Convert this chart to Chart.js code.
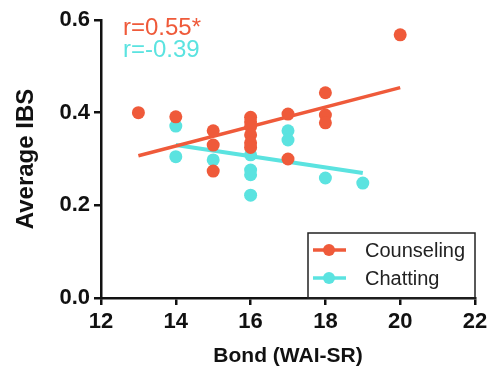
<!DOCTYPE html>
<html>
<head>
<meta charset="utf-8">
<script src="https://cdn.jsdelivr.net/npm/chart.js@4/dist/chart.umd.min.js"></script>
<style>
  html, body { margin: 0; padding: 0; background: #fff; }
  #wrap { width: 488px; height: 372px; }
</style>
</head>
<body>
<div id="wrap"><canvas id="c"></canvas></div>
<script>
// Bond (WAI-SR) scores vs average IBS
var counselingX = [13, 14, 15, 15, 15, 16, 16, 16, 16, 16, 16, 17, 17, 18, 18, 18, 20];
var counselingY = [0.400, 0.391, 0.361, 0.330, 0.274, 0.390, 0.380, 0.370, 0.352, 0.335, 0.325, 0.397, 0.300, 0.443, 0.395, 0.378, 0.568];
var chattingX = [14, 14, 15, 16, 16, 16, 16, 17, 17, 18, 19];
var chattingY = [0.371, 0.305, 0.298, 0.309, 0.276, 0.266, 0.222, 0.361, 0.341, 0.259, 0.248];

// regression lines (end points)
var counselingFitX = [13, 20];
var counselingFitY = [0.307, 0.454];
var chattingFitX = [14, 19];
var chattingFitY = [0.330, 0.270];

var xTicks = [12, 14, 16, 18, 20, 22];
var yTicks = [0.0, 0.2, 0.4, 0.6];

var counselingLabel = 'Counseling';
var chattingLabel = 'Chatting';
var counselingR = 'r=0.55*';
var chattingR = 'r=-0.39';

var orange = '#EF5A3A';
var cyan = '#5BE3E0';
var fontFamily = '"Liberation Sans", Arial, sans-serif';

function toPoints(xs, ys) {
    var pts = [];
    for (var i = 0; i < xs.length; i++) {
        pts.push({x: xs[i], y: ys[i]});
    }
    return pts;
}

var legendBox = {
    id: 'legendBox',
    afterDraw: function(chart) {
        var ctx = chart.ctx;
        var area = chart.chartArea;
        var left = area.right - 167, top = area.bottom - 65;
        ctx.save();
        ctx.strokeStyle = '#222';
        ctx.lineWidth = 1.5;
        ctx.strokeRect(left, top, 167, 65);

        var items = [[counselingLabel, orange], [chattingLabel, cyan]];
        ctx.font = '20px ' + fontFamily;
        ctx.textBaseline = 'middle';
        for (var i = 0; i < items.length; i++) {
            var y = top + 17 + i * 28;
            ctx.strokeStyle = items[i][1];
            ctx.fillStyle = items[i][1];
            ctx.lineWidth = 3.5;
            ctx.beginPath();
            ctx.moveTo(left + 5, y);
            ctx.lineTo(left + 38, y);
            ctx.stroke();
            ctx.beginPath();
            ctx.arc(left + 21, y, 6, 0, Math.PI * 2);
            ctx.fill();
            ctx.fillStyle = '#222';
            ctx.fillText(items[i][0], left + 57, y + 1);
        }

        // correlation labels
        ctx.font = '24px ' + fontFamily;
        ctx.textBaseline = 'alphabetic';
        ctx.fillStyle = orange;
        ctx.fillText(counselingR, area.left + 22, area.top + 15);
        ctx.fillStyle = cyan;
        ctx.fillText(chattingR, area.left + 22, area.top + 37);
        ctx.restore();
    }
};

var pointStyle = {
    showLine: false,
    pointRadius: 6.5,
    pointHoverRadius: 6.5,
    borderWidth: 0
};

new Chart(document.getElementById('c'), {
    type: 'scatter',
    data: {
        datasets: [
            Object.assign({
                label: counselingLabel,
                data: toPoints(counselingX, counselingY),
                backgroundColor: orange,
                borderColor: orange
            }, pointStyle),
            Object.assign({
                label: chattingLabel,
                data: toPoints(chattingX, chattingY),
                backgroundColor: cyan,
                borderColor: cyan
            }, pointStyle),
            {
                label: 'fit1',
                data: toPoints(counselingFitX, counselingFitY),
                showLine: true,
                borderColor: orange,
                borderWidth: 3.5,
                pointRadius: 0
            },
            {
                label: 'fit2',
                data: toPoints(chattingFitX, chattingFitY),
                showLine: true,
                borderColor: cyan,
                borderWidth: 4,
                pointRadius: 0
            }
        ]
    },
    options: {
        responsive: true,
        maintainAspectRatio: false,
        animation: false,
        layout: { padding: { top: 20, right: 13, left: 0, bottom: 0 } },
        plugins: {
            legend: { display: false },
            tooltip: { enabled: false }
        },
        scales: {
            x: {
                type: 'linear',
                min: 12,
                max: 22,
                afterBuildTicks: function(scale) {
                    scale.ticks = xTicks.map(function(v) { return {value: v}; });
                },
                afterFit: function(scale) {
                    scale.height = 74;
                    scale.paddingLeft = 0;
                    scale.paddingRight = 0;
                },
                border: { display: true, color: '#111', width: 2.5 },
                grid: { display: true, drawOnChartArea: false, drawTicks: true, tickLength: 7, color: '#111', lineWidth: 2.5 },
                ticks: {
                    color: '#111',
                    padding: 4,
                    font: { family: fontFamily, size: 22, weight: 'bold' }
                },
                title: {
                    display: true,
                    text: 'Bond (WAI-SR)',
                    color: '#111',
                    padding: { top: 0, bottom: 3 },
                    font: { family: fontFamily, size: 21, weight: 'bold' }
                }
            },
            y: {
                min: 0,
                max: 0.6,
                afterBuildTicks: function(scale) {
                    scale.ticks = yTicks.map(function(v) { return {value: v}; });
                },
                afterFit: function(scale) {
                    scale.width = 101;
                    scale.paddingTop = 0;
                    scale.paddingBottom = 0;
                },
                border: { display: true, color: '#111', width: 2.5 },
                grid: { display: true, drawOnChartArea: false, drawTicks: true, tickLength: 7, color: '#111', lineWidth: 2.5 },
                ticks: {
                    color: '#111',
                    padding: 4,
                    callback: function(v) { return v.toFixed(1); },
                    font: { family: fontFamily, size: 22, weight: 'bold' }
                },
                title: {
                    display: true,
                    text: 'Average IBS',
                    color: '#111',
                    padding: { top: 12, bottom: 0 },
                    font: { family: fontFamily, size: 24, weight: 'bold' }
                }
            }
        }
    },
    plugins: [legendBox]
});
</script>
</body>
</html>
